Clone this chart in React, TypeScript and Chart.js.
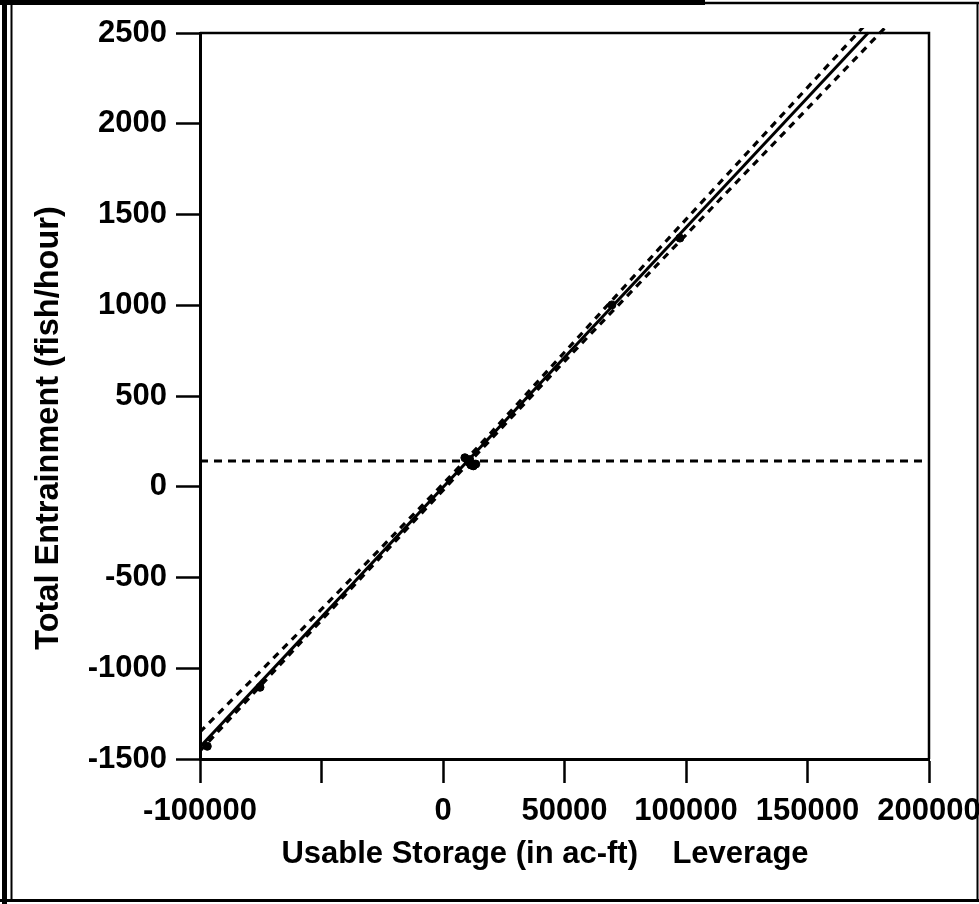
import React, { useEffect, useRef } from "react";
import { Chart, registerables } from "chart.js";

Chart.register(...registerables);

// ---- data ----
const X_MIN = -100000;
const X_MAX = 200000;
const X_STEP = 50000;
const Y_MIN = -1500;
const Y_MAX = 2500;
const Y_STEP = 500;

const X_TICK_LABELS = ["-100000", "", "0", "50000", "100000", "150000", "200000"];
const Y_TICK_LABELS = ["-1500", "-1000", "-500", "0", "500", "1000", "1500", "2000", "2500"];

const X_TITLE = "Usable Storage (in ac-ft)    Leverage";
const Y_TITLE = "Total Entrainment (fish/hour)";

// fitted leverage line
const FIT_X = [-100000, 175000];
const FIT_Y = [-1434, 2501];

// upper confidence curve
const UPPER_X = [-100000, -60000, -20000, 10000, 50000, 100000, 175000];
const UPPER_Y = [-1351, -812, -261, 157, 741, 1473, 2563];

// lower confidence curve
const LOWER_X = [-100000, -60000, -20000, 10000, 50000, 100000, 185000];
const LOWER_Y = [-1456, -879, -306, 123, 691, 1388, 2572];

// horizontal mean line
const MEAN_X = [-100000, 200000];
const MEAN_Y = [142, 142];

// leverage residual points
const POINT_X = [-97000, -75300, 9000, 10500, 11500, 12500, 13500, 11000, 69500, 97500];
const POINT_Y = [-1430, -1105, 160, 140, 120, 115, 125, 150, 1002, 1370];

const zip = (xs: number[], ys: number[]) => xs.map((x, i) => ({ x, y: ys[i] }));

const FONT_FAMILY = "'Liberation Sans', Arial, Helvetica, sans-serif";

const framePlugin = {
  id: "frameAndTitles",
  afterDraw(chart: any) {
    const { ctx, chartArea } = chart;
    const W = chart.width;
    const H = chart.height;
    ctx.save();
    ctx.strokeStyle = "#000";
    ctx.lineCap = "butt";

    // top and right sides of plot box
    ctx.lineWidth = 2.5;
    ctx.beginPath();
    ctx.moveTo(chartArea.left, chartArea.top);
    ctx.lineTo(chartArea.right, chartArea.top);
    ctx.lineTo(chartArea.right, chartArea.bottom);
    ctx.stroke();

    // outer page frame
    ctx.lineWidth = 5;
    ctx.beginPath();
    ctx.moveTo(4.5, 0);
    ctx.lineTo(4.5, H);
    ctx.stroke();
    ctx.beginPath();
    ctx.moveTo(0, 2.5);
    ctx.lineTo(705, 2.5);
    ctx.stroke();
    ctx.lineWidth = 2.5;
    ctx.beginPath();
    ctx.moveTo(705, 3);
    ctx.lineTo(W, 3);
    ctx.stroke();
    ctx.lineWidth = 2;
    ctx.beginPath();
    ctx.moveTo(11.5, 4);
    ctx.lineTo(11.5, 900);
    ctx.stroke();
    ctx.beginPath();
    ctx.moveTo(977.5, 3);
    ctx.lineTo(977.5, 901);
    ctx.stroke();
    ctx.lineWidth = 3;
    ctx.beginPath();
    ctx.moveTo(0, 900.5);
    ctx.lineTo(W, 900.5);
    ctx.stroke();

    // axis titles
    ctx.fillStyle = "#000";
    ctx.textAlign = "center";
    ctx.textBaseline = "alphabetic";
    ctx.font = `bold 31px ${FONT_FAMILY}`;
    ctx.fillText(X_TITLE, 545, 863);
    ctx.font = `bold 32.5px ${FONT_FAMILY}`;
    ctx.translate(58, 428);
    ctx.rotate(-Math.PI / 2);
    ctx.fillText(Y_TITLE, 0, 0);
    ctx.restore();
  },
};

export default function App() {
  const ref = useRef<HTMLCanvasElement | null>(null);

  useEffect(() => {
    if (!ref.current) return;
    const tickFont = { family: FONT_FAMILY, size: 31, weight: "bold" as const };
    const lineClip = { left: 0, top: 5, right: 0, bottom: 0 };
    const chart = new Chart(ref.current, {
      type: "scatter",
      data: {
        datasets: [
          {
            type: "line",
            label: "Fit",
            data: zip(FIT_X, FIT_Y),
            borderColor: "#000",
            borderWidth: 3,
            pointRadius: 0,
            fill: false,
            clip: lineClip,
          } as any,
          {
            type: "line",
            label: "Upper",
            data: zip(UPPER_X, UPPER_Y),
            borderColor: "#000",
            borderWidth: 3.2,
            borderDash: [7, 6],
            pointRadius: 0,
            tension: 0.3,
            fill: false,
            clip: lineClip,
          } as any,
          {
            type: "line",
            label: "Lower",
            data: zip(LOWER_X, LOWER_Y),
            borderColor: "#000",
            borderWidth: 3.2,
            borderDash: [7, 6],
            pointRadius: 0,
            tension: 0.3,
            fill: false,
            clip: lineClip,
          } as any,
          {
            type: "line",
            label: "Mean",
            data: zip(MEAN_X, MEAN_Y),
            borderColor: "#000",
            borderWidth: 3,
            borderDash: [8, 6],
            pointRadius: 0,
            fill: false,
          } as any,
          {
            type: "scatter",
            label: "Points",
            data: zip(POINT_X, POINT_Y),
            backgroundColor: "#000",
            borderColor: "#000",
            pointRadius: 4,
          } as any,
        ],
      },
      options: {
        responsive: false,
        maintainAspectRatio: false,
        animation: false,
        layout: { padding: { top: 33, right: 50, left: 0, bottom: 0 } },
        plugins: { legend: { display: false }, tooltip: { enabled: false } },
        scales: {
          x: {
            type: "linear",
            min: X_MIN,
            max: X_MAX,
            ticks: {
              stepSize: X_STEP,
              autoSkip: false,
              maxRotation: 0,
              color: "#000",
              font: tickFont,
              padding: 10,
              callback: (_v: any, i: number) => X_TICK_LABELS[i] ?? "",
            },
            grid: {
              drawOnChartArea: false,
              drawTicks: true,
              tickLength: 24,
              tickWidth: 2.5,
              tickColor: "#000",
            },
            border: { display: true, color: "#000", width: 3 },
            afterFit: (s: any) => {
              s.height = 145;
              s.paddingLeft = 0;
              s.paddingRight = 0;
            },
          },
          y: {
            type: "linear",
            min: Y_MIN,
            max: Y_MAX,
            ticks: {
              stepSize: Y_STEP,
              autoSkip: false,
              color: "#000",
              font: tickFont,
              padding: 9,
              callback: (_v: any, i: number) => Y_TICK_LABELS[i] ?? "",
            },
            grid: {
              drawOnChartArea: false,
              drawTicks: true,
              tickLength: 24,
              tickWidth: 2.5,
              tickColor: "#000",
            },
            border: { display: true, color: "#000", width: 3 },
            afterFit: (s: any) => {
              s.width = 200;
              s.paddingTop = 0;
              s.paddingBottom = 0;
            },
          },
        },
      } as any,
      plugins: [framePlugin],
    });
    return () => chart.destroy();
  }, []);

  return (
    <div style={{ position: "absolute", left: 0, top: 0, width: 979, height: 904, background: "#fff" }}>
      <canvas ref={ref} width={979} height={904} style={{ display: "block", width: 979, height: 904 }} />
    </div>
  );
}
